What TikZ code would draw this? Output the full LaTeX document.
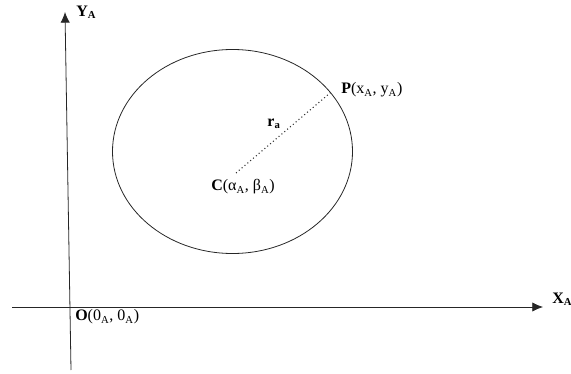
\documentclass[tikz,border=0pt]{standalone}
\usepackage{fontspec}
\setmainfont{Liberation Serif}
\usetikzlibrary{shapes.geometric,arrows.meta}
\newcommand{\lowA}{\textsubscript{A}}
\begin{document}
\begin{tikzpicture}[
        x=0.75pt, y=-0.75pt,
        axis/.style={-{Latex[length=8pt,width=7pt]}, line width=0.6pt, black!85},
        orbitline/.style={ellipse, draw, line width=0.6pt, black!85, minimum width=180pt, minimum height=153pt, inner sep=0pt, outer sep=0pt},
        radius/.style={dotted, line width=0.8pt, black!80},
        lab/.style={font=\fontsize{12}{14}\selectfont, inner sep=0pt}
    ]
        \useasboundingbox (0,0) rectangle (571,374);

        % Axes
        \coordinate (xstart) at (12,307);
        \coordinate (xend) at (543,307);
        \coordinate (ystart) at (71,370);
        \coordinate (yend) at (65,12);
        \draw[axis] (xstart) -- (xend);
        \draw[axis] (ystart) -- (yend);

        % Circle and radius
        \node[orbitline] (orbit) at (232.5,151.5) {};
        \coordinate (C) at (236,173);
        \coordinate (P) at (orbit.31);
        \draw[radius] (C) -- (P);

        % Labels
        \node[lab, anchor=west] (ylab) at (76,12) {\textbf{Y\lowA}};
        \node[lab, anchor=west] (xlab) at (552,299) {\textbf{X\lowA}};
        \node[lab, anchor=west] (olab) at (75,317) {\textbf{O}(0\lowA, 0\lowA)};
        \node[lab, anchor=west] (clab) at (211,187) {\textbf{C}(α\lowA, β\lowA)};
        \node[lab, anchor=west] (plab) at (341,90) {\textbf{P}(x\lowA, y\lowA)};
        \node[lab] (rlab) at (274,124) {\textbf{r\textsubscript{a}}};
    \end{tikzpicture}
\end{document}
